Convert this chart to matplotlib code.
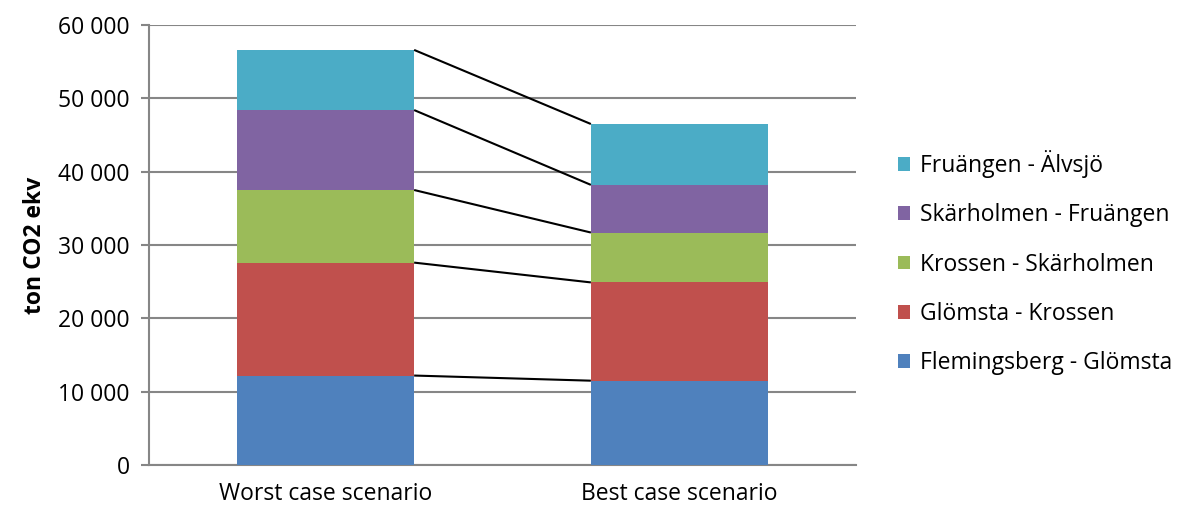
import matplotlib.pyplot as plt
from matplotlib.ticker import FuncFormatter
import numpy as np

plt.rcParams['font.family'] = ['Open Sans', 'DejaVu Sans']

scenarios = ['Worst case scenario', 'Best case scenario']
segments = ['Flemingsberg - Glömsta', 'Glömsta - Krossen', 'Krossen - Skärholmen',
            'Skärholmen - Fruängen', 'Fruängen - Älvsjö']
worst = [12200, 15400, 9900, 10900, 8200]
best = [11500, 13400, 6800, 6500, 8300]
colors = ['#4F81BD', '#C0504D', '#9BBB59', '#8064A2', '#4BACC6']

fig = plt.figure(figsize=(11.8, 5.09), dpi=100)
ax = fig.add_axes([0.1263, 0.0864, 0.5991, 0.8645])

x = np.arange(len(scenarios))
width = 0.5
values = np.array([worst, best])  # rows: scenario, cols: segment
bottoms = np.zeros(len(scenarios))
handles = []
for i, seg in enumerate(segments):
    h = ax.bar(x, values[:, i], width, bottom=bottoms, color=colors[i], label=seg, zorder=3)
    handles.append(h)
    bottoms = bottoms + values[:, i]
    # connector line between the two stacks
    ax.plot([x[0] + width / 2, x[1] - width / 2], [bottoms[0], bottoms[1]],
            color='black', lw=1.5, zorder=4, solid_capstyle='butt')

ax.set_xlim(-0.5, 1.5)
ax.set_ylim(0, 60000)
ax.set_yticks(range(0, 60001, 10000))
ax.yaxis.set_major_formatter(FuncFormatter(lambda v, p: f'{int(v):,}'.replace(',', ' ')))
ax.set_xticks(x)
ax.set_xticklabels(scenarios)

ax.grid(axis='y', color='#868686', lw=1.5, zorder=0)
for s in ['top', 'right']:
    ax.spines[s].set_visible(False)
for s in ['left', 'bottom']:
    ax.spines[s].set_color('#868686')
    ax.spines[s].set_linewidth(1.5)
ax.tick_params(axis='y', colors='#868686', labelcolor='black', labelsize=16.5, length=6, width=1.5, pad=8)
ax.tick_params(axis='x', length=0, labelsize=16.5, pad=12)

ax.set_ylabel('ton CO2 ekv', fontsize=16.5, fontweight='bold', labelpad=8)

ax.legend(handles[::-1], segments[::-1], loc='center left', bbox_to_anchor=(1.03, 0.46),
          frameon=False, fontsize=16.5, handlelength=0.55, handleheight=0.55,
          labelspacing=1.1, handletextpad=0.4)

fig.savefig('out.png', dpi=100)
